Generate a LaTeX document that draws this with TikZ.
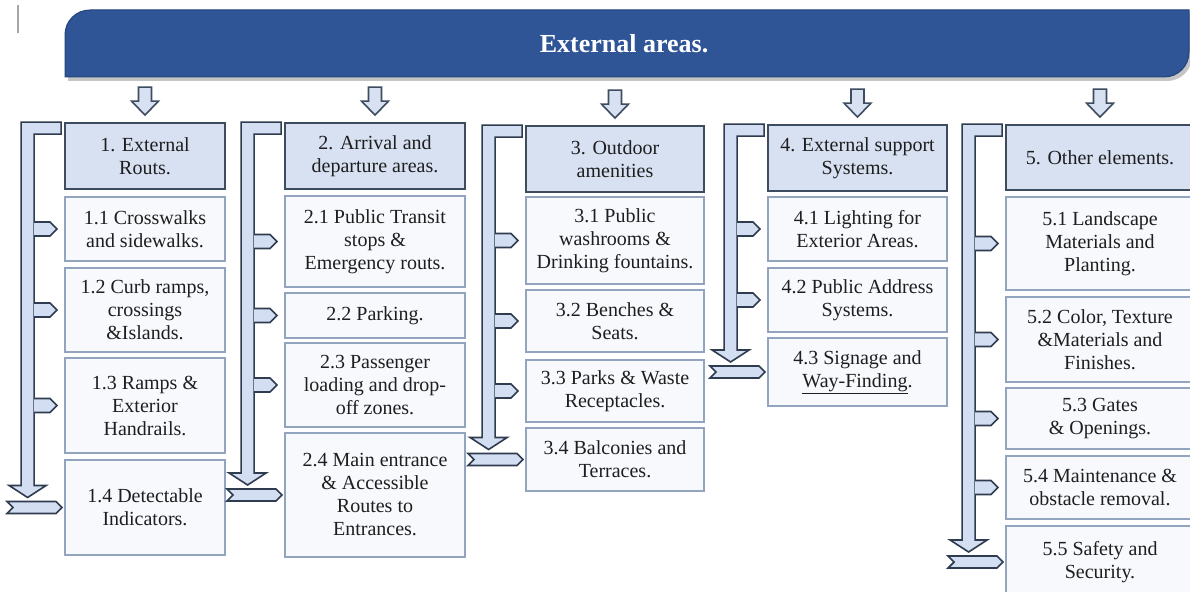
\documentclass[tikz,border=0pt]{standalone}
\usepackage{fontspec}
\setmainfont{Liberation Serif}
\usetikzlibrary{calc, shadows}
\definecolor{bannerblue}{HTML}{2F5597}
\definecolor{bannerline}{HTML}{23437A}
\definecolor{headfill}{HTML}{D7E1F2}
\definecolor{headline}{HTML}{3E4C60}
\definecolor{subline}{HTML}{93A5BE}
\definecolor{subfill}{HTML}{F7F9FD}
\definecolor{pipefill}{HTML}{D3DEF2}
\definecolor{pipeline}{HTML}{2F3B4E}
\definecolor{txt}{HTML}{1E1E1E}
\tikzset{
  wh/.style 2 args={minimum width=#1pt, minimum height=#2pt},
  hbox/.style={draw=headline, fill=headfill, line width=1.8pt, align=center, text=txt, inner sep=2pt},
  sbox/.style={draw=subline, fill=subfill, line width=2.2pt, align=center, text=txt, inner sep=2pt},
  pipe/.style={draw=pipeline, fill=pipefill, line width=1.6pt},
  downarr/.style={draw=headline, fill=headfill, line width=1.6pt}
}

\begin{document}
\begin{tikzpicture}[x=1pt, y=-1pt, font=\rmfamily\fontsize{20}{23}\selectfont]
  \useasboundingbox (0,0) rectangle (1190,591);
  \clip (0,0) rectangle (1190,591);
  \fill[white] (0,0) rectangle (1190,591);
  \draw[gray!70, line width=1.2pt] (18,5) -- (18,33);

  % banner
  \path[fill=bannerblue, draw=bannerline, line width=1pt,
    drop shadow={shadow xshift=3pt, shadow yshift=-4pt, fill=black!50, opacity=0.45}]
    (65,77) -- (65,35) .. controls (65,21) and (76,10) .. (90,10) -- (1189,10)
    -- (1189,52) .. controls (1189,66) and (1178,77) .. (1164,77) -- cycle;
  \node[font=\rmfamily\bfseries\fontsize{26}{30}\selectfont, text=white] (top) at (624,44) {External areas.};

  % column 1
  \node[hbox, wh={160}{66}] (h1) at (145,156) {1. External\\Routs.};
  \node[sbox, wh={160}{64}] (b11) at (145,229) {1.1 Crosswalks\\and sidewalks.};
  \node[sbox, wh={160}{84}] (b12) at (145,310) {1.2 Curb ramps,\\crossings\\\&Islands.};
  \node[sbox, wh={160}{95}] (b13) at (145,405.5) {1.3 Ramps \&\\Exterior\\Handrails.};
  \node[sbox, wh={160}{95}] (b14) at (145,507.5) {1.4 Detectable\\Indicators.};

  % column 2
  \node[hbox, wh={180}{66}] (h2) at (375,156) {2. Arrival and\\departure areas.};
  \node[sbox, wh={180}{91}] (b21) at (375,241.5) {2.1 Public Transit\\stops \&\\Emergency routs.};
  \node[sbox, wh={180}{45}] (b22) at (375,315.5) {2.2 Parking.};
  \node[sbox, wh={180}{84}] (b23) at (375,385) {2.3 Passenger\\loading and drop-\\off zones.};
  \node[sbox, wh={180}{124}] (b24) at (375,495) {2.4 Main entrance\\\& Accessible\\Routes to\\Entrances.};

  % column 3
  \node[hbox, wh={178}{66}] (h3) at (615,159) {3. Outdoor\\amenities};
  \node[sbox, wh={178}{87}] (b31) at (615,240.5) {3.1 Public\\washrooms \&\\Drinking fountains.};
  \node[sbox, wh={178}{62}] (b32) at (615,321) {3.2 Benches \&\\Seats.};
  \node[sbox, wh={178}{62}] (b33) at (615,391) {3.3 Parks \& Waste\\Receptacles.};
  \node[sbox, wh={178}{63}] (b34) at (615,459.5) {3.4 Balconies and\\Terraces.};

  % column 4
  \node[hbox, wh={179}{66}] (h4) at (857.5,158) {4. External support\\Systems.};
  \node[sbox, wh={179}{64}] (b41) at (857.5,229) {4.1 Lighting for\\Exterior Areas.};
  \node[sbox, wh={179}{64}] (b42) at (857.5,300) {4.2 Public Address\\Systems.};
  \node[sbox, wh={179}{68}] (b43) at (857.5,372) {4.3 Signage and\\\underline{Way-Finding}.};

  % column 5
  \node[hbox, wh={188}{65}] (h5) at (1100,157.5) {5. Other elements.};
  \node[sbox, wh={188}{93}] (b51) at (1100,243.5) {5.1 Landscape\\Materials and\\Planting.};
  \node[sbox, wh={188}{85}] (b52) at (1100,339.5) {5.2 Color, Texture\\\&Materials and\\Finishes.};
  \node[sbox, wh={188}{61}] (b53) at (1100,418.5) {5.3 Gates\\\& Openings.};
  \node[sbox, wh={188}{63}] (b54) at (1100,487.5) {5.4 Maintenance \&\\obstacle removal.};
  \node[sbox, wh={188}{72}] (b55) at (1100,562) {5.5 Safety and\\Security.};

  % arrows from the banner
  \foreach \h in {h1,h2,h3,h4,h5}
    \draw[downarr] ($(\h.north)+(-6.5,-35)$) -- ++(13,0) -- ++(0,14) -- ++(7,0)
      -- ++(-13.5,14) -- ++(-13.5,-14) -- ++(7,0) -- cycle;

  % branch pipes
  \foreach \h/\last/\subs in {h1/b14/{b11,b12,b13}, h2/b24/{b21,b22,b23},
      h3/b34/{b31,b32,b33}, h4/b43/{b41,b42}, h5/b55/{b51,b52,b53,b54}}{
    \coordinate (o) at ($(\h.north west)+(-43,0)$);
    \coordinate (e) at (o |- \last.west);
    \draw[pipe] (o) -- ($(\h.north west)+(-3,0)$) -- ($(\h.north west)+(-3,12)$)
      -- ($(o)+(13,12)$) -- ($(e)+(13,-22)$) -- ($(e)+(25,-22)$) -- ($(e)+(6.5,-10)$)
      -- ($(e)+(-12,-22)$) -- ($(e)+(0,-22)$) -- cycle;
    \draw[pipe] ($(e)+(-14,-6)$) -- ($(\last.west)+(-8,-6)$) -- ($(\last.west)+(-2,0)$)
      -- ($(\last.west)+(-8,6)$) -- ($(e)+(-14,6)$) -- ($(e)+(-8,0)$) -- cycle;
    \foreach \s in \subs
      \draw[pipe] ($(o |- \s.west)+(13,-7)$) -- ($(\s.west)+(-14,-7)$) -- ($(\s.west)+(-7,0)$)
        -- ($(\s.west)+(-14,7)$) -- ($(o |- \s.west)+(13,7)$);
  }
\end{tikzpicture}
\end{document}
